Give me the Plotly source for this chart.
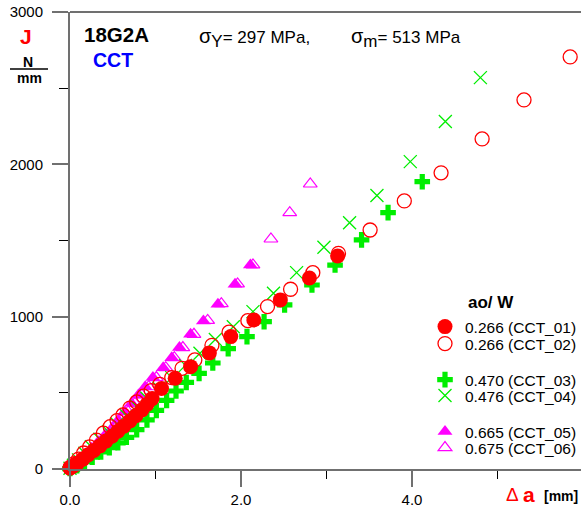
import plotly.graph_objects as go

# ---------------- data ----------------
x_cct01 = [0.00, 0.04, 0.09, 0.15, 0.21, 0.28, 0.35, 0.42, 0.49, 0.56, 0.63, 0.70, 0.77, 0.84, 0.90, 0.96,
           1.07, 1.23, 1.41, 1.63, 1.88, 2.15, 2.46, 2.80, 3.13]
y_cct01 = [5, 20, 40, 65, 92, 122, 152, 183, 215, 248, 281, 315, 350, 388, 424, 462,
           528, 596, 672, 762, 869, 978, 1110, 1254, 1398]

x_cct02 = [0.00, 0.05, 0.10, 0.16, 0.23, 0.31, 0.39, 0.47, 0.55, 0.62, 0.70, 0.78, 0.86, 0.95, 1.05,
           1.19, 1.31, 1.46, 1.66, 1.86, 2.08, 2.31, 2.58, 2.84, 3.14, 3.51, 3.91, 4.34, 4.82, 5.31, 5.85]
y_cct02 = [10, 35, 65, 105, 145, 190, 235, 278, 318, 355, 400, 440, 478, 515, 555,
           600, 661, 716, 812, 898, 974, 1066, 1180, 1289, 1416, 1569, 1760, 1944, 2167, 2423, 2705]

x_cct03 = [0.00, 0.08, 0.17, 0.26, 0.36, 0.46, 0.56, 0.66, 0.78, 0.90, 1.01, 1.13, 1.24, 1.36, 1.51,
           1.67, 1.85, 2.07, 2.27, 2.51, 2.83, 3.10, 3.41, 3.72, 4.12]
y_cct03 = [3, 22, 48, 78, 112, 140, 172, 208, 258, 322, 385, 450, 512, 568, 628,
           696, 790, 869, 967, 1077, 1208, 1339, 1504, 1683, 1886]

x_cct04 = [0.00, 0.04, 0.10, 0.175, 0.25, 0.35, 0.45, 0.55, 0.66, 0.78, 0.90, 1.04, 1.19, 1.35, 1.52,
           1.70, 1.91, 2.14, 2.38, 2.65, 2.97, 3.27, 3.59, 3.98, 4.39, 4.80]
y_cct04 = [5, 25, 60, 103, 146, 195, 245, 295, 350, 410, 465, 530, 600, 680, 760,
           850, 934, 1033, 1154, 1289, 1456, 1617, 1795, 2018, 2281, 2569]

x_cct05 = [0.02, 0.10, 0.175, 0.25, 0.33, 0.41, 0.49, 0.565, 0.64, 0.72, 0.80, 0.88, 0.97, 1.09, 1.19,
           1.28, 1.41, 1.56, 1.73, 1.93, 2.11]
y_cct05 = [31, 59, 96, 136, 179, 223, 267, 322, 376, 431, 486, 540, 600, 665, 731,
           797, 884, 972, 1081, 1213, 1339]

x_cct06 = [0.04, 0.12, 0.20, 0.28, 0.36, 0.44, 0.52, 0.60, 0.68, 0.76, 0.84, 0.92, 1.01, 1.12, 1.22,
           1.32, 1.45, 1.61, 1.77, 1.96, 2.14, 2.35, 2.57, 2.81]
y_cct06 = [31, 59, 96, 136, 179, 223, 267, 322, 376, 431, 486, 540, 600, 665, 731,
           797, 884, 975, 1085, 1215, 1340, 1510, 1683, 1871]

series_names = ["0.266 (CCT_01)", "0.266 (CCT_02)", "0.470 (CCT_03)",
                "0.476 (CCT_04)", "0.665 (CCT_05)", "0.675 (CCT_06)"]

x_ticks = [0, 2, 4]
x_tick_labels = ["0.0", "2.0", "4.0"]
y_ticks = [0, 1000, 2000, 3000]
y_tick_labels = ["0", "1000", "2000", "3000"]

# ---------------- layout helpers (pixel -> paper) ----------------
W, H = 581, 508
L, R, T, B = 70, 0, 12, 39
PW, PH = W - L - R, H - T - B


def pxx(x):
    return (x - L) / PW


def pxy(y):
    return (H - B - y) / PH


RED, GREEN, MAG, BLUE = "#ff0000", "#00ee00", "#ff00ff", "#0000ff"
FONT = "Arial, Liberation Sans, sans-serif"

fig = go.Figure()

specs = [
    (x_cct05, y_cct05, series_names[4], dict(symbol="triangle-up", size=13, color=MAG, line=dict(width=0)), "legend5"),
    (x_cct06, y_cct06, series_names[5], dict(symbol="triangle-up-open", size=12, color=MAG, line=dict(width=1.2)), "legend6"),
    (x_cct04, y_cct04, series_names[3], dict(symbol="x-thin-open", size=13, color=GREEN, line=dict(width=1.3, color=GREEN)), "legend4"),
    (x_cct03, y_cct03, series_names[2], dict(symbol="cross", size=13, color=GREEN, line=dict(width=0)), "legend3"),
    (x_cct02, y_cct02, series_names[1], dict(symbol="circle-open", size=14, color=RED, line=dict(width=1.3)), "legend2"),
    (x_cct01, y_cct01, series_names[0], dict(symbol="circle", size=15, color=RED, line=dict(width=0)), "legend"),
]
for xs, ys, name, mk, lg in specs:
    fig.add_trace(go.Scatter(x=xs, y=ys, mode="markers", name=name, marker=mk,
                             cliponaxis=False, legend=lg, showlegend=True))

# legends: one per entry so the row spacing can match the reference
leg_rows = {"legend": 327, "legend2": 344, "legend3": 380, "legend4": 396, "legend5": 432, "legend6": 448}
leg_x = pxx(425)
legend_common = dict(x=leg_x, xanchor="left", yanchor="middle", bgcolor="rgba(0,0,0,0)",
                     font=dict(family=FONT, size=15.5, color="black"), borderwidth=0)
layout_legends = {k: dict(y=pxy(v), **legend_common) for k, v in leg_rows.items()}

axis_common = dict(showline=True, linecolor="#707070", linewidth=2, showgrid=False, zeroline=False,
                   ticks="outside", ticklen=16, tickwidth=2, tickcolor="#707070", automargin=False,
                   tickfont=dict(family=FONT, size=15, color="black"))

fig.update_layout(
    width=W, height=H,
    margin=dict(l=L, r=R, t=T, b=B, pad=0, autoexpand=False),
    paper_bgcolor="white", plot_bgcolor="white",
    font=dict(family=FONT, color="black"),
    xaxis=dict(range=[0, PW / 85.5], tickvals=x_ticks, ticktext=x_tick_labels,
               minor=dict(dtick=1, tick0=0, ticks="outside", ticklen=8, tickwidth=1, tickcolor="black"),
               ticklabelstandoff=0, **axis_common),
    yaxis=dict(range=[0, 3000], tickvals=y_ticks, ticktext=y_tick_labels,
               minor=dict(dtick=500, tick0=0, ticks="outside", ticklen=9, tickwidth=1, tickcolor="black"),
               ticklabelstandoff=6, **axis_common),
    **layout_legends,
)

# top frame line and the N/mm fraction bar
fig.add_shape(type="line", xref="paper", yref="paper", x0=0, x1=1, y0=1, y1=1,
              line=dict(color="#707070", width=2))
fig.add_shape(type="line", xref="paper", yref="paper", x0=pxx(10), x1=pxx(48), y0=pxy(69), y1=pxy(69),
              line=dict(color="black", width=1.5))


def ann(text, x, y, size, color="black", bold=False, xanchor="center"):
    t = f"<b>{text}</b>" if bold else text
    fig.add_annotation(text=t, xref="paper", yref="paper", x=pxx(x), y=pxy(y),
                       xanchor=xanchor, yanchor="middle", showarrow=False,
                       font=dict(family=FONT, size=size, color=color))


ann("J", 26, 37, 21, RED, True)
ann("N", 28, 62, 14, "black", True)
ann("mm", 29, 78, 14, "black", True)
ann("18G2A", 82, 34, 20.5, "black", True, "left")
ann("CCT", 91, 60, 19.5, BLUE, True, "left")
ann("<span style='font-size:20px'>σ</span><sub><span style='font-size:17px'>Y</span></sub>= 297 MPa,",
    197, 38, 17, "black", False, "left")
ann("<span style='font-size:20px'>σ</span><sub><span style='font-size:17px'>m</span></sub>= 513 MPa",
    349, 38, 17, "black", False, "left")
ann("ao/ W", 466, 303, 17, "black", True, "left")
ann("Δ", 504, 494, 19, RED, False, "left")
ann("a", 521, 494, 21, RED, True, "left")
ann("[mm]", 542, 496, 14, "black", True, "left")

fig.write_html("out.html", config={"displayModeBar": False},
               post_script="document.body.style.margin='0';document.body.style.padding='0';")
